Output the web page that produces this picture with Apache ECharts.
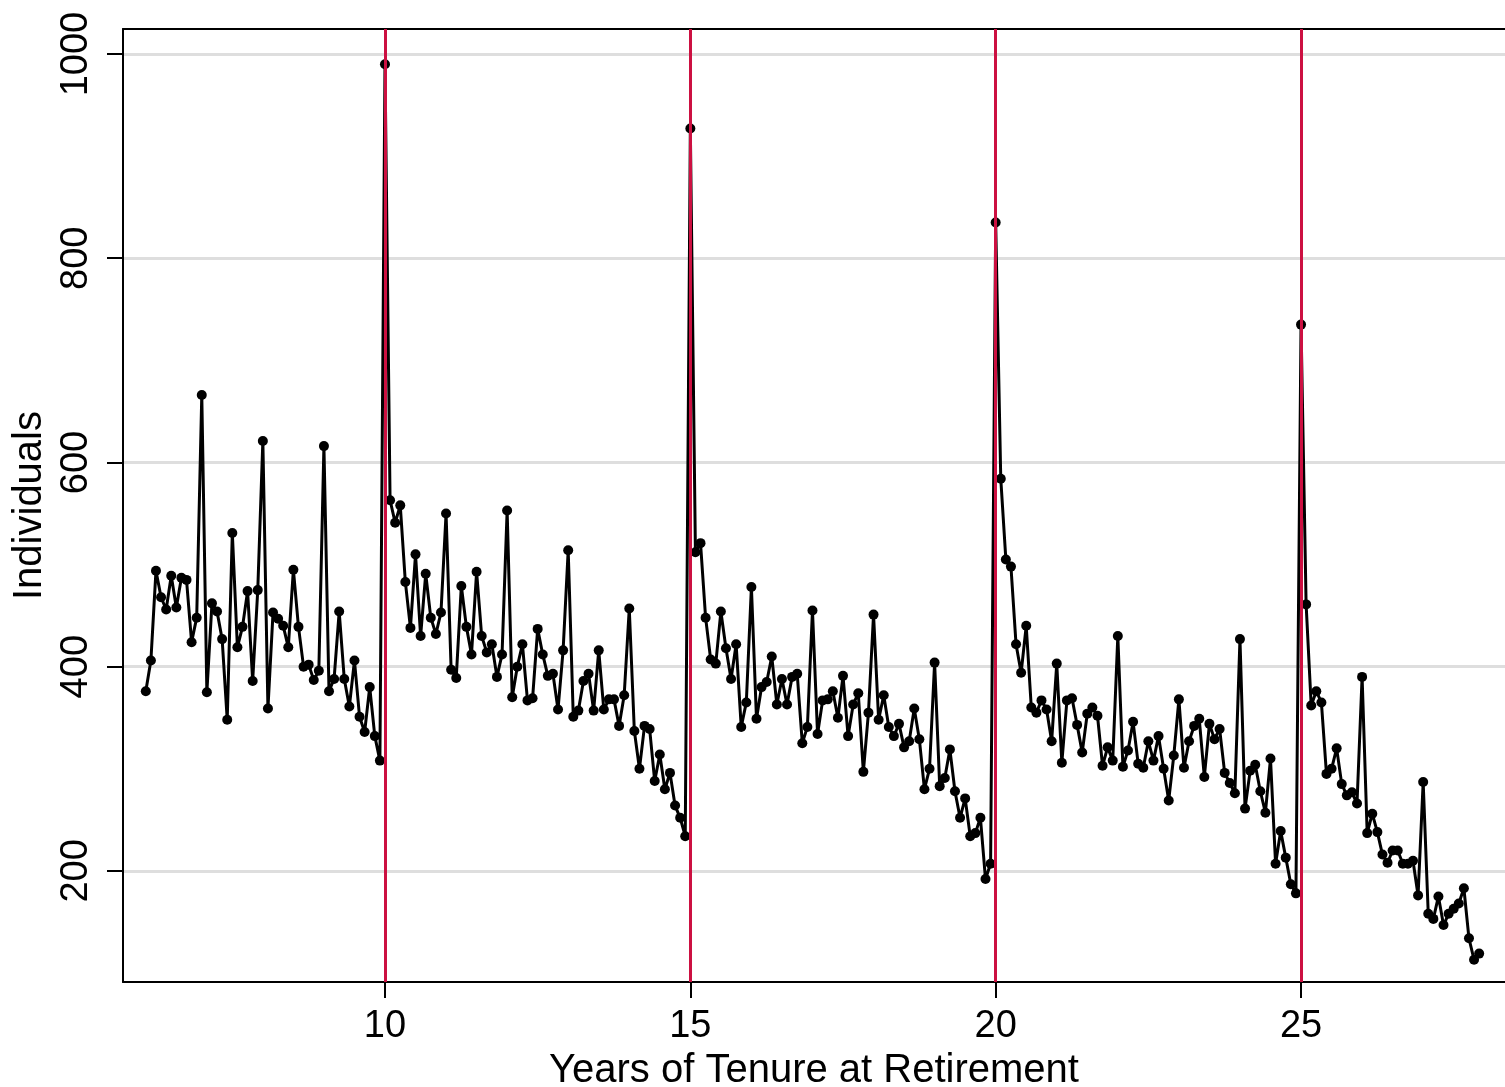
<!doctype html>
<html lang="en">
<head>
<meta charset="utf-8">
<title>Individuals by Years of Tenure at Retirement</title>
<style>
    html, body { margin: 0; padding: 0; background: #fff; }
    #main { width: 1505px; height: 1087px; }
</style>
</head>
<body>
<div id="main"></div>
<script src="https://cdn.jsdelivr.net/npm/echarts@6/dist/echarts.min.js"></script>
<script>
    // monthly observations, first one at 6 years + 1 month of tenure
    var firstTenure = 6 + 1 / 12;
    var monthStep = 1 / 12;
    var individuals = [
        376, 406, 494, 468, 456, 489, 458, 487, 485, 424, 448, 666,
        375, 462, 454, 427, 348, 531, 419, 439, 474, 386, 475, 621,
        359, 453, 447, 440, 419, 495, 439, 400, 402, 387, 396, 616,
        376, 388, 454, 388, 361, 406, 351, 336, 380, 332, 308, 990,
        563, 541, 558, 483, 438, 510, 430, 491, 448, 432, 453, 550,
        397, 389, 479, 439, 412, 493, 430, 414, 422, 390, 412, 553,
        370, 400, 422, 367, 369, 437, 412, 391, 393, 358, 416, 514,
        351, 357, 386, 393, 357, 416, 358, 368, 368, 342, 372, 457,
        337, 300, 342, 339, 288, 314, 280, 296, 264, 252, 234, 927,
        512, 521, 448, 407, 403, 454, 418, 388, 422, 341, 365, 478,
        349, 380, 385, 410, 363, 388, 363, 390, 393, 325, 341, 455,
        334, 367, 368, 376, 350, 391, 332, 363, 374, 297, 355, 451,
        348, 372, 341, 332, 344, 321, 327, 359, 329, 280, 300, 404,
        283, 291, 319, 278, 252, 271, 234, 237, 252, 192, 207, 835,
        584, 505, 498, 422, 394, 440, 360, 355, 367, 358, 327, 403,
        306, 367, 369, 343, 316, 354, 360, 352, 303, 321, 308, 430,
        302, 318, 346, 305, 301, 327, 308, 332, 300, 269, 313, 368,
        301, 327, 342, 349, 292, 344, 329, 339, 296, 286, 276, 427,
        261, 298, 304, 278, 257, 310, 207, 239, 213, 187, 178, 735,
        461, 362, 376, 365, 295, 300, 320, 285, 274, 277, 266, 390,
        237, 256, 238, 216, 208, 220, 220, 207, 207, 210, 176, 287,
        158, 153, 175, 147, 158, 163, 168, 183, 134, 113, 119
    ];
    var xTicks = [10, 15, 20, 25];
    var yTicks = [200, 400, 600, 800, 1000];
    var cutoffs = [10, 15, 20, 25];

    var points = [];
    for (var i = 0; i < individuals.length; i++) {
        points.push([firstTenure + i * monthStep, individuals[i]]);
    }

    var font = 'Liberation Sans, Arial, sans-serif';
    var plain = function (v) { return String(v); };
    var myChart = echarts.init(document.getElementById('main'));

    var option = {
        backgroundColor: '#fff',
        animation: false,
        grid: { left: 123, right: 0, top: 29, bottom: 105, containLabel: false, outerBoundsMode: 'none' },
        xAxis: [{
            type: 'value',
            min: 5.71,
            max: 28.34,
            name: 'Years of Tenure at Retirement',
            nameLocation: 'middle',
            nameGap: 64,
            nameTextStyle: { color: '#000', fontSize: 40, fontFamily: font },
            axisLine: { show: true, onZero: false, lineStyle: { color: '#000', width: 2 } },
            axisTick: { show: true, length: 16, lineStyle: { color: '#000', width: 2 }, customValues: xTicks },
            axisLabel: { color: '#000', fontSize: 38, fontFamily: font, margin: 26, customValues: xTicks, formatter: plain },
            splitLine: { show: false }
        }, {
            // top frame line
            type: 'value',
            position: 'top',
            min: 5.71,
            max: 28.34,
            axisLine: { show: true, onZero: false, lineStyle: { color: '#000', width: 2 } },
            axisTick: { show: false },
            axisLabel: { show: false },
            splitLine: { show: false }
        }],
        yAxis: {
            type: 'value',
            min: 91.2,
            max: 1024.5,
            name: 'Individuals',
            nameLocation: 'middle',
            nameGap: 72,
            nameTextStyle: { color: '#000', fontSize: 40, fontFamily: font },
            axisLine: { show: true, onZero: false, lineStyle: { color: '#000', width: 2 } },
            axisTick: { show: true, length: 16, lineStyle: { color: '#000', width: 2 }, customValues: yTicks },
            axisLabel: { color: '#000', fontSize: 38, fontFamily: font, rotate: 90, margin: 27, customValues: yTicks, formatter: plain },
            splitLine: { show: true, lineStyle: { color: '#dedede', width: 3 } }
        },
        series: [{
            // red reference lines at the cliff years
            type: 'line',
            data: [],
            z: 1,
            markLine: {
                silent: true,
                symbol: 'none',
                label: { show: false },
                lineStyle: { color: '#cc1041', width: 3, type: 'solid' },
                data: cutoffs.map(function (c) { return { xAxis: c }; })
            }
        }, {
            type: 'line',
            data: points,
            z: 3,
            symbol: 'circle',
            symbolSize: 10,
            showAllSymbol: true,
            lineStyle: { color: '#000', width: 3 },
            itemStyle: { color: '#000' }
        }]
    };

    myChart.setOption(option);
</script>
</body>
</html>
